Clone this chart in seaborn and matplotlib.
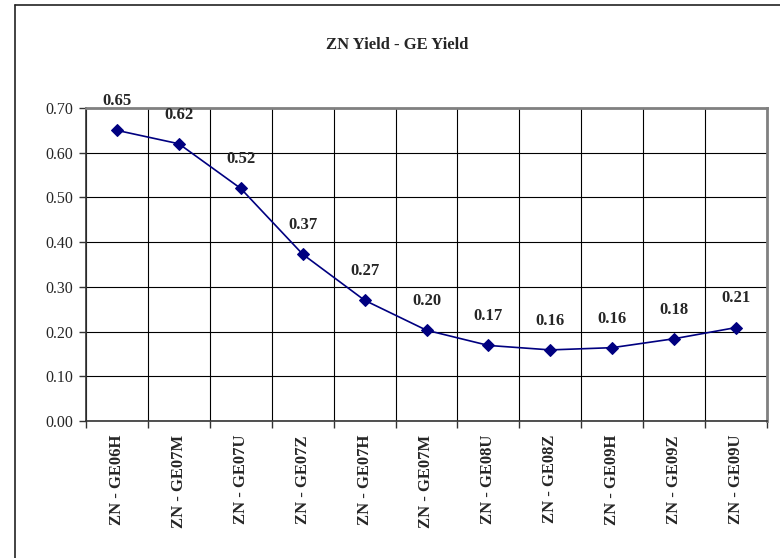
import matplotlib
matplotlib.use("Agg")
import matplotlib.pyplot as plt
from matplotlib.ticker import FixedLocator, FormatStrFormatter, MultipleLocator
import numpy as np
import pandas as pd
import seaborn as sns

# 데이터
spreads = ['ZN - GE06H', 'ZN - GE07M', 'ZN - GE07U', 'ZN - GE07Z', 'ZN - GE07H',
           'ZN - GE07M', 'ZN - GE08U', 'ZN - GE08Z', 'ZN - GE09H', 'ZN - GE09Z', 'ZN - GE09U']
values = [0.65, 0.62, 0.52, 0.373, 0.27, 0.203, 0.169, 0.159, 0.164, 0.184, 0.209]
labels = ['0.65', '0.62', '0.52', '0.37', '0.27', '0.20', '0.17', '0.16', '0.16', '0.18', '0.21']

sns.set_style('white')
plt.rcParams['font.family'] = ['Liberation Serif', 'DejaVu Serif']

# duplicate names (GE07M twice) -> use position index
df = pd.DataFrame({'pos': np.arange(len(spreads)), 'value': values})

fig = plt.figure(figsize=(7.8, 5.58), dpi=100)
ax = fig.add_axes([86 / 780, 1 - 421 / 558, (767 - 86) / 780, (421 - 108) / 558])

sns.lineplot(data=df, x='pos', y='value', ax=ax, color='#000080', linewidth=1.2,
             marker='D', markersize=6.5, markeredgecolor='#000080', zorder=5)

for i, (v, lab) in enumerate(zip(values, labels)):
    ax.annotate(lab, (i, v), xytext=(0, 21), textcoords='offset points',
                ha='center', va='center', fontsize=12, fontweight='bold', annotation_clip=False)

ax.set_xlim(-0.5, len(spreads) - 0.5)
ax.set_ylim(0, 0.70)
ax.yaxis.set_major_locator(MultipleLocator(0.1))
ax.yaxis.set_major_formatter(FormatStrFormatter('%.2f'))
ax.set_xticks(np.arange(len(spreads)))
ax.set_xticklabels(spreads, rotation=90, fontweight='bold', fontsize=12)
ax.xaxis.set_minor_locator(FixedLocator(np.arange(-0.5, len(spreads), 1.0)))
ax.tick_params(axis='x', which='major', length=0, pad=10)
ax.tick_params(axis='x', which='minor', length=5, width=1, color='#333333', direction='out', bottom=True)
ax.tick_params(axis='y', length=5, width=1, color='#333333', direction='out', left=True, labelsize=11.5, pad=4)
ax.grid(True, which='minor', axis='x', color='black', linewidth=0.8)
ax.grid(True, which='major', axis='y', color='black', linewidth=0.8)
ax.set_axisbelow(True)
ax.set_xlabel('')
ax.set_ylabel('')

for s in ['left', 'bottom']:
    ax.spines[s].set_color('#333333')
    ax.spines[s].set_linewidth(1.2)
for s in ['top', 'right']:
    ax.spines[s].set_color('#808080')
    ax.spines[s].set_linewidth(2)

fig.text(397 / 780, 1 - 45 / 558, 'ZN Yield - GE Yield', ha='center', va='center',
         fontsize=12, fontweight='bold')

# chart outer border (left & top visible)
fig.add_artist(plt.Line2D([15 / 780, 15 / 780], [0, 1 - 5 / 558], color='#222222', linewidth=1.2))
fig.add_artist(plt.Line2D([15 / 780, 1], [1 - 5 / 558, 1 - 5 / 558], color='#222222', linewidth=1.2))

fig.savefig('out.png', dpi=100)
